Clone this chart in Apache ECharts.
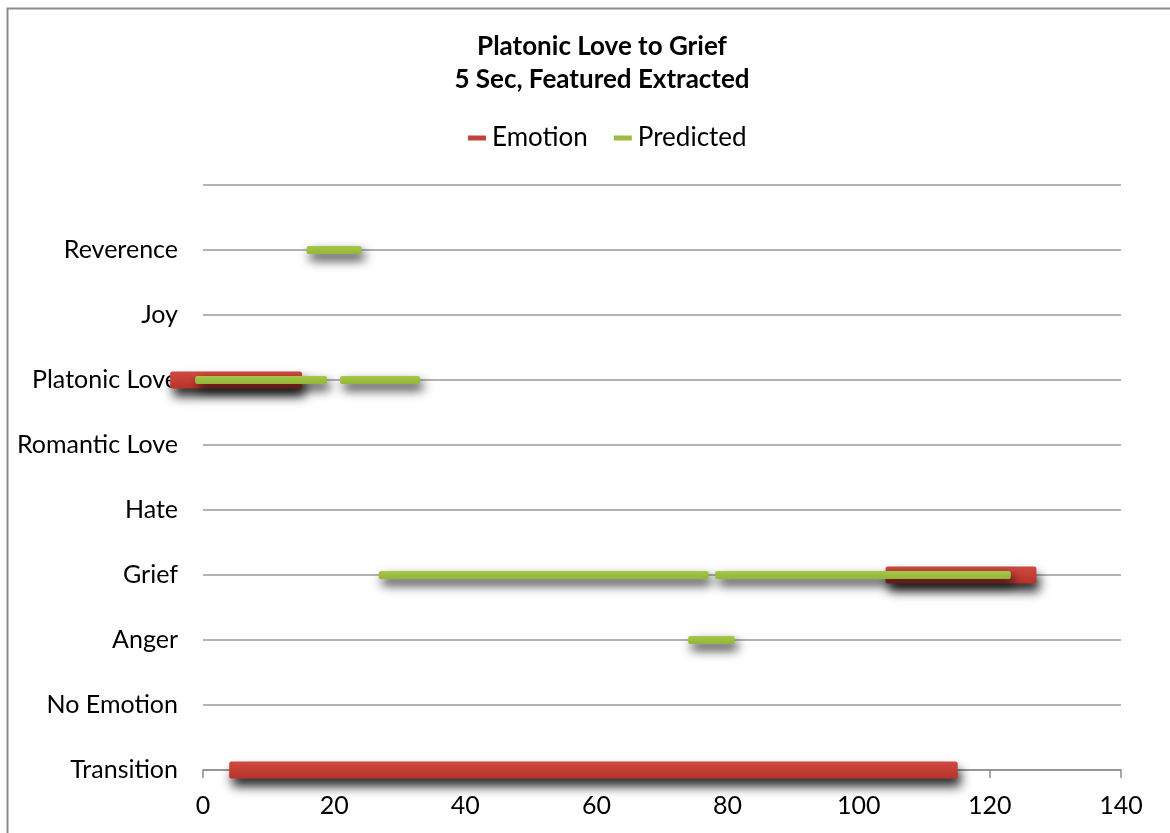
<!DOCTYPE html>
<html>
<head>
<meta charset="utf-8">
<script src="https://cdn.jsdelivr.net/npm/echarts@6/dist/echarts.min.js"></script>
<style>
html,body{margin:0;padding:0;background:#fff;}
#chart{width:1170px;height:833px;}
</style>
</head>
<body>
<div id="chart"></div>
<script>
// Y levels (0 = bottom)
var yLabels = ['Transition','No Emotion','Anger','Grief','Hate','Romantic Love','Platonic Love','Joy','Reverence',''];
var xTicks = [0, 20, 40, 60, 80, 100, 120, 140];
// Segments: [start, end, level]
var emotionSegments = [
  [-5, 15.1, 6],
  [4, 115.1, 0],
  [104.1, 127.1, 3]
];
var predictedSegments = [
  [-1.2, 18.9, 6],
  [20.9, 33.1, 6],
  [15.8, 24.2, 8],
  [74.0, 81.1, 2],
  [26.8, 77.1, 3],
  [78.1, 123.2, 3]
];

var chart = echarts.init(document.getElementById('chart'));
var FONT = 'Lato';

function makeRender(h, fill, shadowOff) {
  return function (params, api) {
    var s = api.coord([api.value(0), api.value(2)]);
    var e = api.coord([api.value(1), api.value(2)]);
    return {
      type: 'rect',
      shape: { x: s[0], y: s[1] - h / 2, width: e[0] - s[0], height: h, r: 2 },
      style: {
        fill: fill,
        shadowBlur: 11,
        shadowColor: 'rgba(0,0,0,0.85)',
        shadowOffsetY: shadowOff,
        shadowOffsetX: 3
      }
    };
  };
}

var redFill = new echarts.graphic.LinearGradient(0, 0, 0, 1, [
  { offset: 0, color: '#cf4a40' },
  { offset: 1, color: '#b8322b' }
]);
var greenFill = new echarts.graphic.LinearGradient(0, 0, 0, 1, [
  { offset: 0, color: '#a6c74a' },
  { offset: 1, color: '#93b636' }
]);

chart.setOption({
  animation: false,
  backgroundColor: '#fff',
  title: {
    text: 'Platonic Love to Grief\n5 Sec, Featured Extracted',
    left: 597, textAlign: 'center', top: 25,
    textStyle: { fontFamily: FONT, fontWeight: 'bold', fontSize: 26, lineHeight: 33, color: '#000' }
  },
  legend: {
    top: 120, left: 463,
    itemGap: 26, itemWidth: 18, itemHeight: 5,
    icon: 'rect',
    textStyle: { fontFamily: FONT, fontSize: 26, color: '#000', padding: [0, 0, 0, 1] },
    data: [
      { name: 'Emotion', itemStyle: { color: '#c0443d' } },
      { name: 'Predicted', itemStyle: { color: '#9bbb45' } }
    ]
  },
  grid: { left: 203, right: 49, top: 185, bottom: 63 },
  xAxis: {
    type: 'value', min: 0, max: 140, interval: 20,
    axisLine: { show: true, lineStyle: { color: '#8c8c8c', width: 1.5 } },
    axisTick: { show: true, length: 8, lineStyle: { color: '#8c8c8c', width: 1.5 } },
    splitLine: { show: false },
    axisLabel: {
      fontFamily: FONT, fontSize: 25, color: '#000', margin: 23,
      formatter: function (v) { return xTicks.indexOf(v) >= 0 ? String(v) : ''; }
    }
  },
  yAxis: {
    type: 'value', min: 0, max: 9, interval: 1,
    axisLine: { show: false }, axisTick: { show: false },
    splitLine: { show: true, lineStyle: { color: '#9a9a9a', width: 1.5 } },
    axisLabel: {
      fontFamily: FONT, fontSize: 25, color: '#000', margin: 25,
      padding: [6, 0, 0, 0],
      formatter: function (v) { return yLabels[v] || ''; }
    }
  },
  graphic: [{
    type: 'rect', silent: true, z: 100,
    shape: { x: 7.5, y: 8.5, width: 1300, height: 1000 },
    style: { fill: null, stroke: '#8c8c8c', lineWidth: 2 }
  }],
  series: [
    {
      name: 'Emotion', type: 'custom', clip: false,
      itemStyle: { color: '#c0443d' },
      renderItem: makeRender(17, redFill, 8),
      encode: { x: [0, 1], y: 2 },
      data: emotionSegments, z: 2
    },
    {
      name: 'Predicted', type: 'custom', clip: false,
      itemStyle: { color: '#9bbb45' },
      renderItem: makeRender(8, greenFill, 6),
      encode: { x: [0, 1], y: 2 },
      data: predictedSegments, z: 3
    }
  ]
});
</script>
</body>
</html>
